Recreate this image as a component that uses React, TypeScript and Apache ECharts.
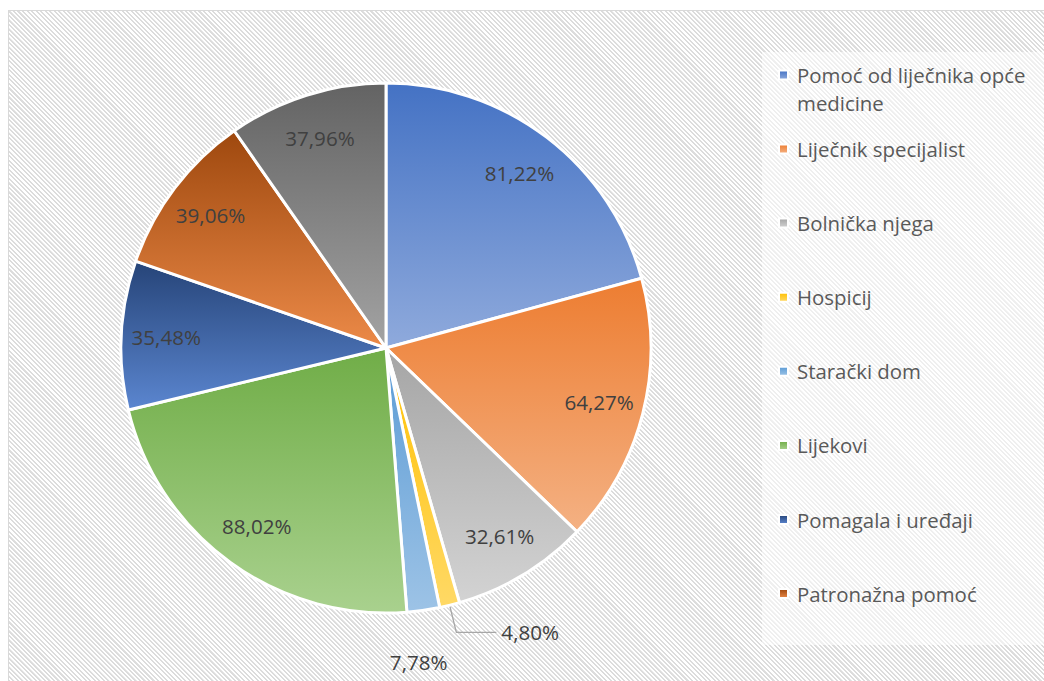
import React, { useEffect, useRef } from "react";
import * as echarts from "echarts";

const categories = [
  "Pomoć od liječnika opće medicine",
  "Liječnik specijalist",
  "Bolnička njega",
  "Hospicij",
  "Starački dom",
  "Lijekovi",
  "Pomagala i uređaji",
  "Patronažna pomoć",
  "Ostalo",
];
const values = [81.22, 64.27, 32.61, 4.8, 7.78, 88.02, 35.48, 39.06, 37.96];
const topColors = ["#4472C4", "#ED7D31", "#A5A5A5", "#FFC000", "#5B9BD5", "#70AD47", "#264478", "#9E480E", "#636363"];
const bottomColors = ["#8FAADC", "#F4B183", "#D3D3D3", "#FFD966", "#9DC3E6", "#A9D18E", "#5B86D0", "#EC8A48", "#A3A3A3"];
const firstLegendText = "\nPomoć od liječnika opće\nmedicine";

const FONT = "'Open Sans', 'Noto Sans', sans-serif";

const grad = (i: number) =>
  new echarts.graphic.LinearGradient(0, 0, 0, 1, [
    { offset: 0, color: topColors[i] },
    { offset: 1, color: bottomColors[i] },
  ]);

const fmt = (v: number) => v.toFixed(2).replace(".", ",") + "%";

export default function App() {
  const ref = useRef<HTMLDivElement>(null);
  useEffect(() => {
    if (!ref.current) return;
    const chart = echarts.init(ref.current, undefined, { renderer: "svg" });
    const center = [386, 348];
    const legendText = {
      fontSize: 20.4,
      color: "#595959",
      fontFamily: FONT,
      lineHeight: 28,
      padding: [0, 0, 0, 4],
    };
    const labelText = {
      fontSize: 20.6,
      color: "#404040",
      fontFamily: FONT,
    };
    chart.setOption({
      animation: false,
      backgroundColor: "transparent",
      graphic: [
        {
          type: "rect",
          left: 762,
          top: 52,
          shape: { width: 300, height: 593 },
          style: { fill: "rgba(255,255,255,0.55)" },
          silent: true,
          z: 0,
        },
      ],
      legend: [
        {
          data: [categories[0]],
          orient: "vertical",
          left: 778,
          top: 33,
          padding: 0,
          itemWidth: 9,
          itemHeight: 9,
          icon: "rect",
          selectedMode: false,
          formatter: () => firstLegendText,
          textStyle: legendText,
        },
        {
          data: categories.slice(1, 8),
          orient: "vertical",
          left: 778,
          top: 135,
          padding: 0,
          itemGap: 46.1,
          itemWidth: 9,
          itemHeight: 9,
          icon: "rect",
          selectedMode: false,
          textStyle: legendText,
        },
      ],
      series: [
        {
          type: "pie",
          center,
          radius: [0, 265],
          startAngle: 90,
          clockwise: true,
          silent: true,
          label: { show: false },
          labelLine: { show: false },
          itemStyle: { borderColor: "#ffffff", borderWidth: 3 },
          data: categories.map((name, i) => ({
            name,
            value: values[i],
            itemStyle: { color: grad(i) },
          })),
        },
        {
          type: "pie",
          center,
          radius: [169, 265],
          startAngle: 90,
          clockwise: true,
          silent: true,
          avoidLabelOverlap: false,
          itemStyle: { color: "rgba(0,0,0,0)", borderWidth: 0 },
          label: {
            show: true,
            position: "inside",
            formatter: (p: any) => fmt(p.value),
            ...labelText,
          },
          labelLine: {
            show: true,
            length: 28,
            length2: 40,
            lineStyle: { color: "#a6a6a6", width: 1.3 },
          },
          data: categories.map((name, i) => ({
            name,
            value: values[i],
            label:
              i === 3
                ? { position: "outside", distanceToLabelLine: 5 }
                : i === 4
                ? { show: false }
                : {},
          })),
        },
        {
          type: "pie",
          center,
          radius: [290, 338],
          startAngle: 90,
          clockwise: true,
          silent: true,
          avoidLabelOverlap: false,
          itemStyle: { color: "rgba(0,0,0,0)", borderWidth: 0 },
          labelLine: { show: false },
          labelLayout: { dx: -12 },
          label: {
            show: true,
            position: "inside",
            formatter: (p: any) => fmt(p.value),
            ...labelText,
          },
          data: categories.map((name, i) => ({
            name,
            value: values[i],
            label: i === 4 ? {} : { show: false },
          })),
        },
      ],
    });
    return () => chart.dispose();
  }, []);

  return (
    <div
      style={{
        position: "absolute",
        left: 0,
        top: 0,
        width: 1044,
        height: 681,
        overflow: "hidden",
        background: "#ffffff",
      }}
    >
      <div
        style={{
          position: "absolute",
          left: 8,
          top: 10,
          width: 1060,
          height: 700,
          boxSizing: "border-box",
          border: "1.5px solid #d9d9d9",
          backgroundColor: "#ffffff",
          backgroundImage:
            "repeating-linear-gradient(45deg, #dcdcdc 0px, #dcdcdc 1.4px, #ffffff 1.7px, #ffffff 3.2px)",
        }}
      />
      <div ref={ref} style={{ position: "absolute", left: 0, top: 0, width: 1044, height: 681 }} />
    </div>
  );
}
